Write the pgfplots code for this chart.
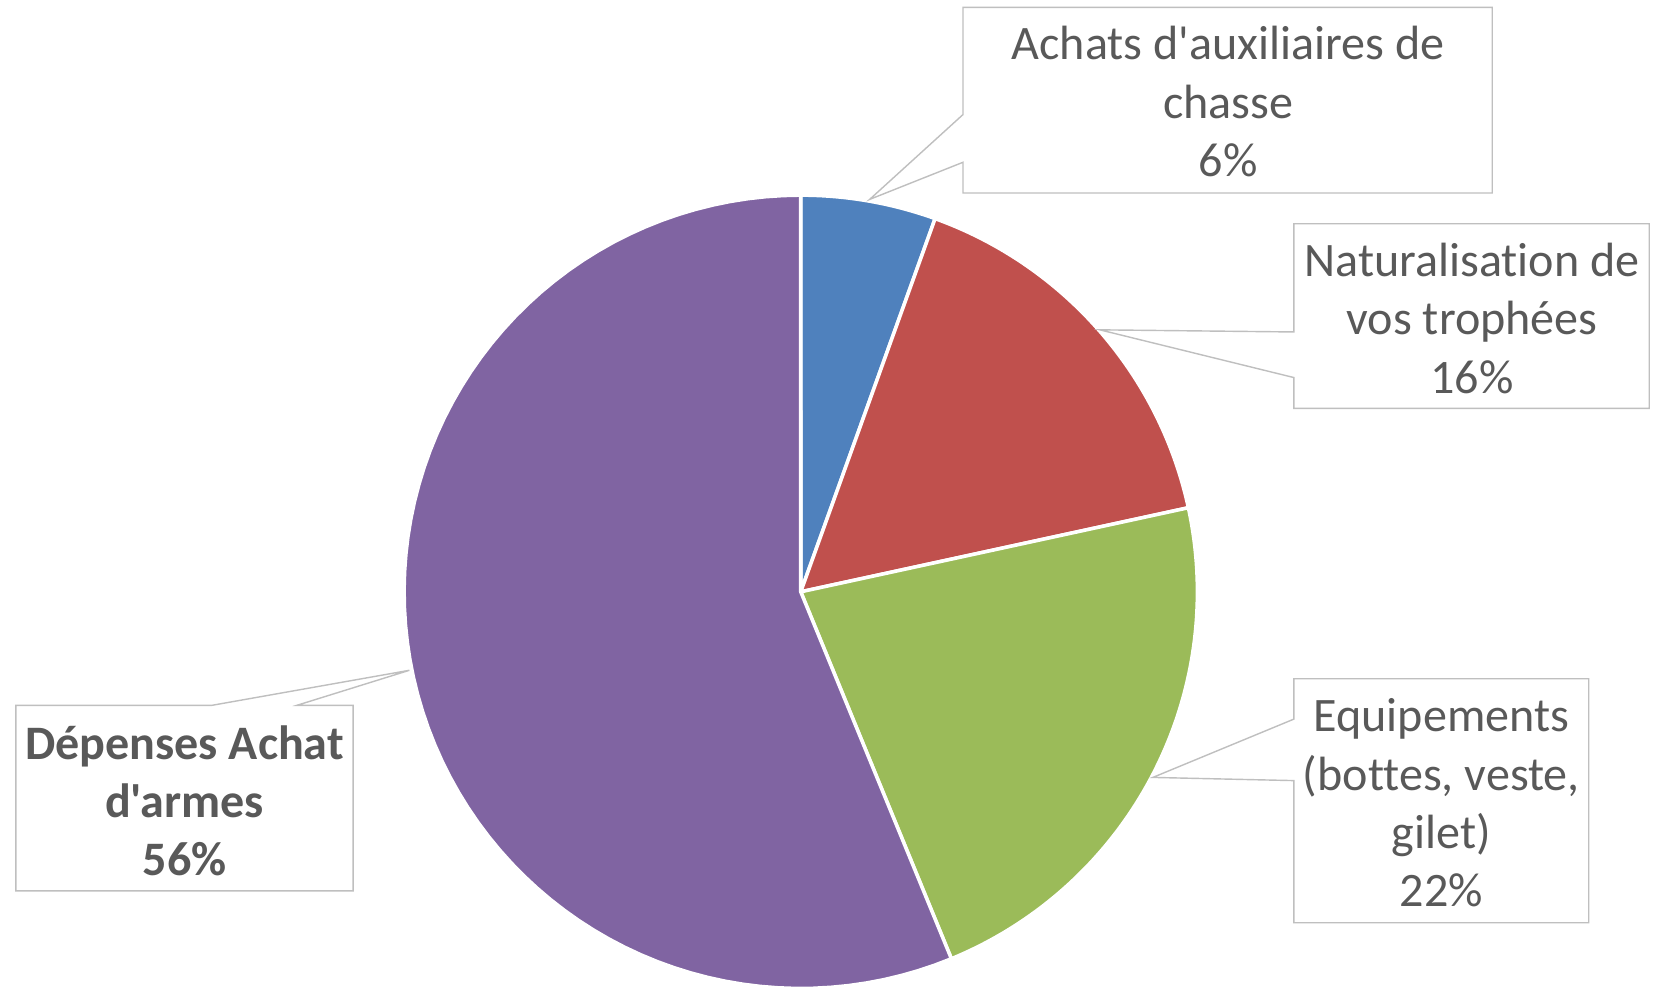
\documentclass[border=0pt]{standalone}
\usepackage{pgfplots}
\pgfplotsset{compat=1.18}
\usepackage{pgfplotstable}
\usepackage{fontspec}
\setmainfont{Carlito}[Ligatures={TeXOff,NoCommon}]

\definecolor{sBlue}{HTML}{4F81BD}
\definecolor{sRed}{HTML}{C0504D}
\definecolor{sGreen}{HTML}{9BBB59}
\definecolor{sPurple}{HTML}{8064A2}
\definecolor{txt}{HTML}{595959}
\definecolor{frame}{HTML}{BFBFBF}

% slice shares in percent, clockwise from 12 o'clock
\pgfplotstableread{
label value
aux 5.5
nat 16.1
equ 22.2
arm 56.2
}\piedata

\pgfplotstablegetelem{0}{value}\of\piedata \let\vA\pgfplotsretval
\pgfplotstablegetelem{1}{value}\of\piedata \let\vB\pgfplotsretval
\pgfplotstablegetelem{2}{value}\of\piedata \let\vC\pgfplotsretval
\pgfplotstablegetelem{3}{value}\of\piedata \let\vD\pgfplotsretval
\pgfmathsetmacro\aA{3.6*\vA}
\pgfmathsetmacro\aB{\aA+3.6*\vB}
\pgfmathsetmacro\aC{\aB+3.6*\vC}
\pgfmathsetmacro\aD{\aC+3.6*\vD}

\begin{document}
\begin{tikzpicture}
\begin{axis}[
    scale only axis,
    width=470.4pt, height=279.9pt,
    xmin=0, xmax=1568, ymin=0, ymax=933,
    y dir=reverse,
    hide axis, clip=false,
    samples=80, variable=\t,
]
\path (axis cs:0,0) rectangle (axis cs:1568,933);
% pie centre (755,558), radius 374
\addplot[fill=sBlue, draw=white, line width=1pt, domain=0:\aA]
    ({755+374*sin(t)},{558-374*cos(t)}) -- (axis cs:755,558) -- cycle;
\addplot[fill=sRed, draw=white, line width=1pt, domain=\aA:\aB]
    ({755+374*sin(t)},{558-374*cos(t)}) -- (axis cs:755,558) -- cycle;
\addplot[fill=sGreen, draw=white, line width=1pt, domain=\aB:\aC]
    ({755+374*sin(t)},{558-374*cos(t)}) -- (axis cs:755,558) -- cycle;
\addplot[fill=sPurple, draw=white, line width=1pt, domain=\aC:\aD]
    ({755+374*sin(t)},{558-374*cos(t)}) -- (axis cs:755,558) -- cycle;

% callouts
\draw[frame, line width=0.4pt] (axis cs:908,7) -- (axis cs:1407,7) -- (axis cs:1407,182)
  -- (axis cs:908,182) -- (axis cs:908,153) -- (axis cs:820,188) -- (axis cs:908,108) -- cycle;
\draw[frame, line width=0.4pt] (axis cs:1220,211) -- (axis cs:1555,211) -- (axis cs:1555,385)
  -- (axis cs:1220,385) -- (axis cs:1220,356) -- (axis cs:1037,311) -- (axis cs:1220,313) -- cycle;
\draw[frame, line width=0.4pt] (axis cs:1220,640) -- (axis cs:1498,640) -- (axis cs:1498,870)
  -- (axis cs:1220,870) -- (axis cs:1220,736) -- (axis cs:1087,733) -- (axis cs:1220,678) -- cycle;
\draw[frame, line width=0.4pt] (axis cs:15,665) -- (axis cs:200,665) -- (axis cs:386,632)
  -- (axis cs:280,665) -- (axis cs:333,665) -- (axis cs:333,840) -- (axis cs:15,840) -- cycle;

\tikzset{lbl/.style={text=txt, align=center, inner sep=0pt,
    font=\fontsize{13.6}{16.5}\selectfont}}
\node[lbl] at (axis cs:1158,96) {Achats d'auxiliaires de\\chasse\\6\%};
\node[lbl] at (axis cs:1388,300) {Naturalisation de\\vos trophées\\16\%};
\node[lbl] at (axis cs:1359,757) {Equipements\\(bottes, veste,\\gilet)\\22\%};
\node[lbl, font=\fontsize{13.6}{16.5}\selectfont\bfseries] at (axis cs:174,755) {Dépenses Achat\\d'armes\\56\%};
\end{axis}
\end{tikzpicture}
\end{document}
